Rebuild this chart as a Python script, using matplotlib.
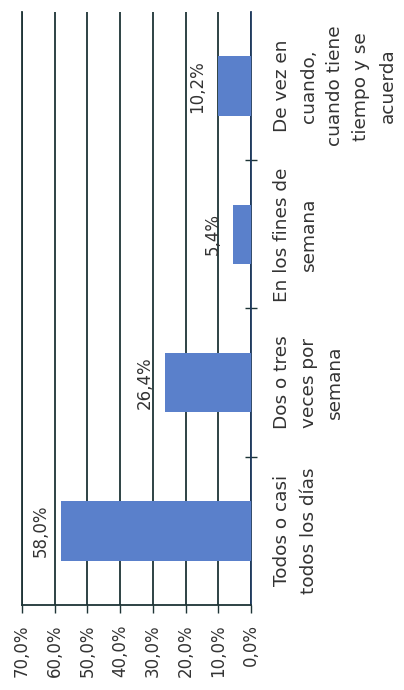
import numpy as np
import matplotlib
matplotlib.use("Agg")
import matplotlib.pyplot as plt

# datos (gráfico girado 90°)
categories = ["Todos o casi\ntodos los días",
              "Dos o tres\nveces por\nsemana",
              "En los fines de\nsemana",
              "De vez en\ncuando,\ncuando tiene\ntiempo y se\nacuerda"]
values = [58.0, 26.4, 5.4, 10.2]
value_labels = ["58,0%", "26,4%", "5,4%", "10,2%"]
ticks = [0, 10, 20, 30, 40, 50, 60, 70]
tick_labels = ["0,0%", "10,0%", "20,0%", "30,0%", "40,0%", "50,0%", "60,0%", "70,0%"]

bar_color = "#5A80CB"
grid_color = "#1E3436"
text_color = "#333333"

fig = plt.figure(figsize=(4.04, 6.90), dpi=100)
ax = fig.add_axes([0.0545, 0.1232, 0.5668, 0.8594])

pos = np.arange(len(categories))
ax.barh(pos, values, height=0.4, color=bar_color, zorder=3)

ax.set_xlim(70, 0)
ax.set_ylim(-0.5, len(categories) - 0.5)

ax.set_xticks(ticks)
ax.set_xticklabels(tick_labels, rotation=90, fontsize=12, color=text_color)
ax.tick_params(axis="x", direction="out", length=6, width=1, color=grid_color, pad=8)
ax.xaxis.grid(True, color=grid_color, linewidth=1.3, zorder=0)
ax.set_axisbelow(True)

ax.yaxis.tick_right()
ax.set_yticks(pos)
ax.set_yticklabels(categories, rotation=90, va="center", ha="left",
                   fontsize=13.3, color=text_color, linespacing=1.6)
for lab in ax.get_yticklabels():
    lab.set_multialignment("center")
ax.tick_params(axis="y", length=0, pad=16)
ax.set_yticks(pos[:-1] + 0.5, minor=True)
ax.tick_params(axis="y", which="minor", direction="inout", length=8, width=1, color=grid_color)

ax.spines["top"].set_visible(False)
ax.spines["left"].set_color(grid_color)
ax.spines["left"].set_linewidth(1.3)
ax.spines["right"].set_color("#1F3A5F")
ax.spines["right"].set_linewidth(1.3)
ax.spines["bottom"].set_color(grid_color)
ax.spines["bottom"].set_linewidth(1.3)

for p, v, lab in zip(pos, values, value_labels):
    ax.annotate(lab, (v, p), xytext=(-8, 0), textcoords="offset points",
                rotation=90, ha="right", va="center", fontsize=12, color=text_color)

fig.savefig("out.png", dpi=100)
